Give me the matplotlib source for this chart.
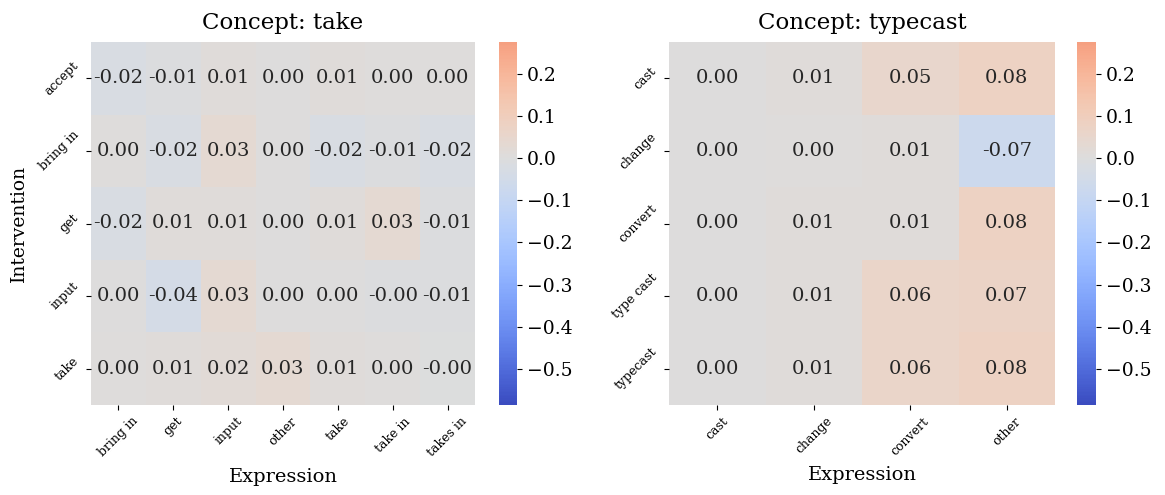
import numpy as np
import matplotlib

matplotlib.use("Agg")
import matplotlib.pyplot as plt
import seaborn as sns

plt.rcParams["font.family"] = "DejaVu Serif"

# Concept: take
take_rows = ["accept", "bring in", "get", "input", "take"]
take_cols = ["bring in", "get", "input", "other", "take", "take in", "takes in"]
take_vals = np.array([
    [-0.020, -0.010, 0.010, 0.000, 0.010, 0.004, 0.003],
    [0.004, -0.020, 0.030, 0.000, -0.020, -0.010, -0.020],
    [-0.020, 0.010, 0.010, 0.000, 0.010, 0.030, -0.010],
    [0.000, -0.040, 0.030, 0.000, 0.000, -0.004, -0.010],
    [0.004, 0.010, 0.020, 0.030, 0.010, 0.003, -0.002],
])

# Concept: typecast
cast_rows = ["cast", "change", "convert", "type cast", "typecast"]
cast_cols = ["cast", "change", "convert", "other"]
cast_vals = np.array([
    [0.000, 0.010, 0.050, 0.080],
    [0.000, 0.004, 0.010, -0.070],
    [0.000, 0.010, 0.010, 0.080],
    [0.000, 0.010, 0.060, 0.070],
    [0.000, 0.010, 0.060, 0.080],
])

VMIN, VMAX = -0.585, 0.275

fig = plt.figure(figsize=(11.65, 4.95), dpi=100)
W, H = 1165, 495


def box(x0, y0, x1, y1):
    return [x0 / W, 1 - y1 / H, (x1 - x0) / W, (y1 - y0) / H]


panels = [
    ("take", take_vals, take_rows, take_cols, box(91, 42, 475, 405), box(499, 42, 517, 405), True),
    ("typecast", cast_vals, cast_rows, cast_cols, box(669, 42, 1055, 405), box(1077, 42, 1096, 405), False),
]

for name, vals, rows, cols, pos, cpos, ylab in panels:
    ax = fig.add_axes(pos)
    cax = fig.add_axes(cpos)
    sns.heatmap(vals, ax=ax, cbar_ax=cax, cmap="coolwarm", center=0,
                vmin=VMIN, vmax=VMAX, annot=True, fmt=".2f",
                annot_kws={"fontsize": 14},
                xticklabels=cols, yticklabels=rows)
    ax.set_title(f"Concept: {name}", fontsize=16.5, pad=9)
    ax.set_xlabel("Expression", fontsize=14, labelpad=6)
    if ylab:
        ax.set_ylabel("Intervention", fontsize=13.5, labelpad=6)
    ax.set_xticklabels(cols, rotation=45, fontsize=9)
    ax.set_yticklabels(rows, rotation=45, fontsize=9, va="center")
    cax.tick_params(labelsize=13.5)

fig.savefig("out.png", dpi=100)
